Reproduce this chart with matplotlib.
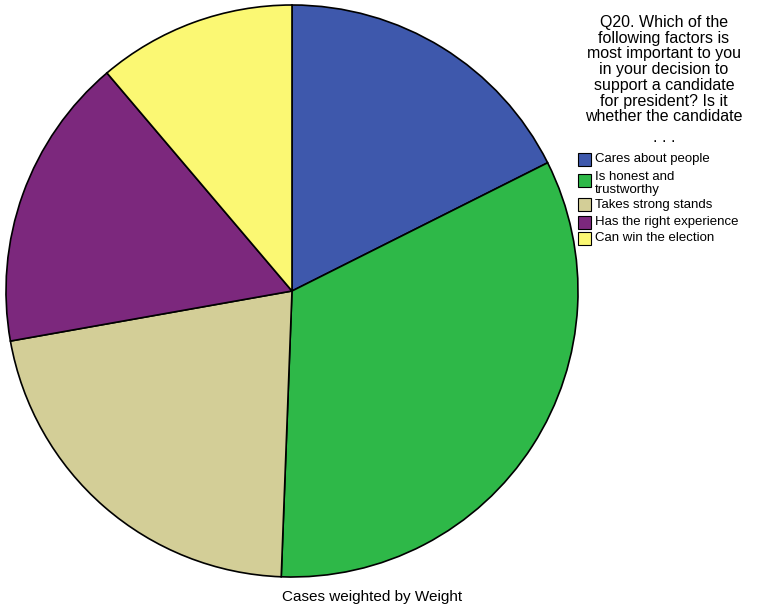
import matplotlib
matplotlib.use("Agg")
import matplotlib.pyplot as plt
from matplotlib.patches import Rectangle

categories = ["Cares about people", "Is honest and\ntrustworthy", "Takes strong stands",
              "Has the right experience", "Can win the election"]
values = [17.6, 33.0, 21.6, 16.6, 11.2]
colors = ["#3e58ac", "#2eb848", "#d3ce97", "#7c287d", "#fbf873"]

plt.rcParams['font.family'] = ['Liberation Sans', 'DejaVu Sans']

W, H = 770, 607
fig = plt.figure(figsize=(W/100, H/100), dpi=100)
cx, cy, r = 292, 291, 286
ax = fig.add_axes([(cx - r)/W, (H - cy - r)/H, 2*r/W, 2*r/H])
ax.pie(values, colors=colors, startangle=90, counterclock=False, radius=1,
       wedgeprops=dict(edgecolor="black", linewidth=1.2))
ax.set_xlim(-1, 1)
ax.set_ylim(-1, 1)
ax.set_aspect('equal')
ax.axis('off')

title = ("Q20. Which of the\nfollowing factors is\nmost important to you\n"
         "in your decision to\nsupport a candidate\nfor president? Is it\nwhether the candidate")
fig.text(664/W, 1 - 15/H, title, ha='center', va='top', fontsize=11.5,
         linespacing=1.06)
fig.text(664/W, 1 - 137/H, ". . .", ha='center', va='center', fontsize=11.5)

ys = [159, 181, 205, 222, 238]
text_ys = [159, 178, 205, 222, 238]
for lab, col, ysq, yt in zip(categories, colors, ys, text_ys):
    fig.patches.append(Rectangle((578/W, 1 - (ysq + 6.5)/H), 13/W, 13/H,
                                 transform=fig.transFigure, facecolor=col,
                                 edgecolor="black", linewidth=0.8))
    va = 'center'
    y = 1 - yt/H
    if "\n" in lab:
        va = 'top'
        y = 1 - (yt - 7)/H
    fig.text(595/W, y, lab, ha='left', va=va, fontsize=9.5, linespacing=1.1)

fig.text(372/W, 1 - 597/H, "Cases weighted by Weight", ha='center', va='center',
         fontsize=11)

fig.savefig("out.png", dpi=100)
